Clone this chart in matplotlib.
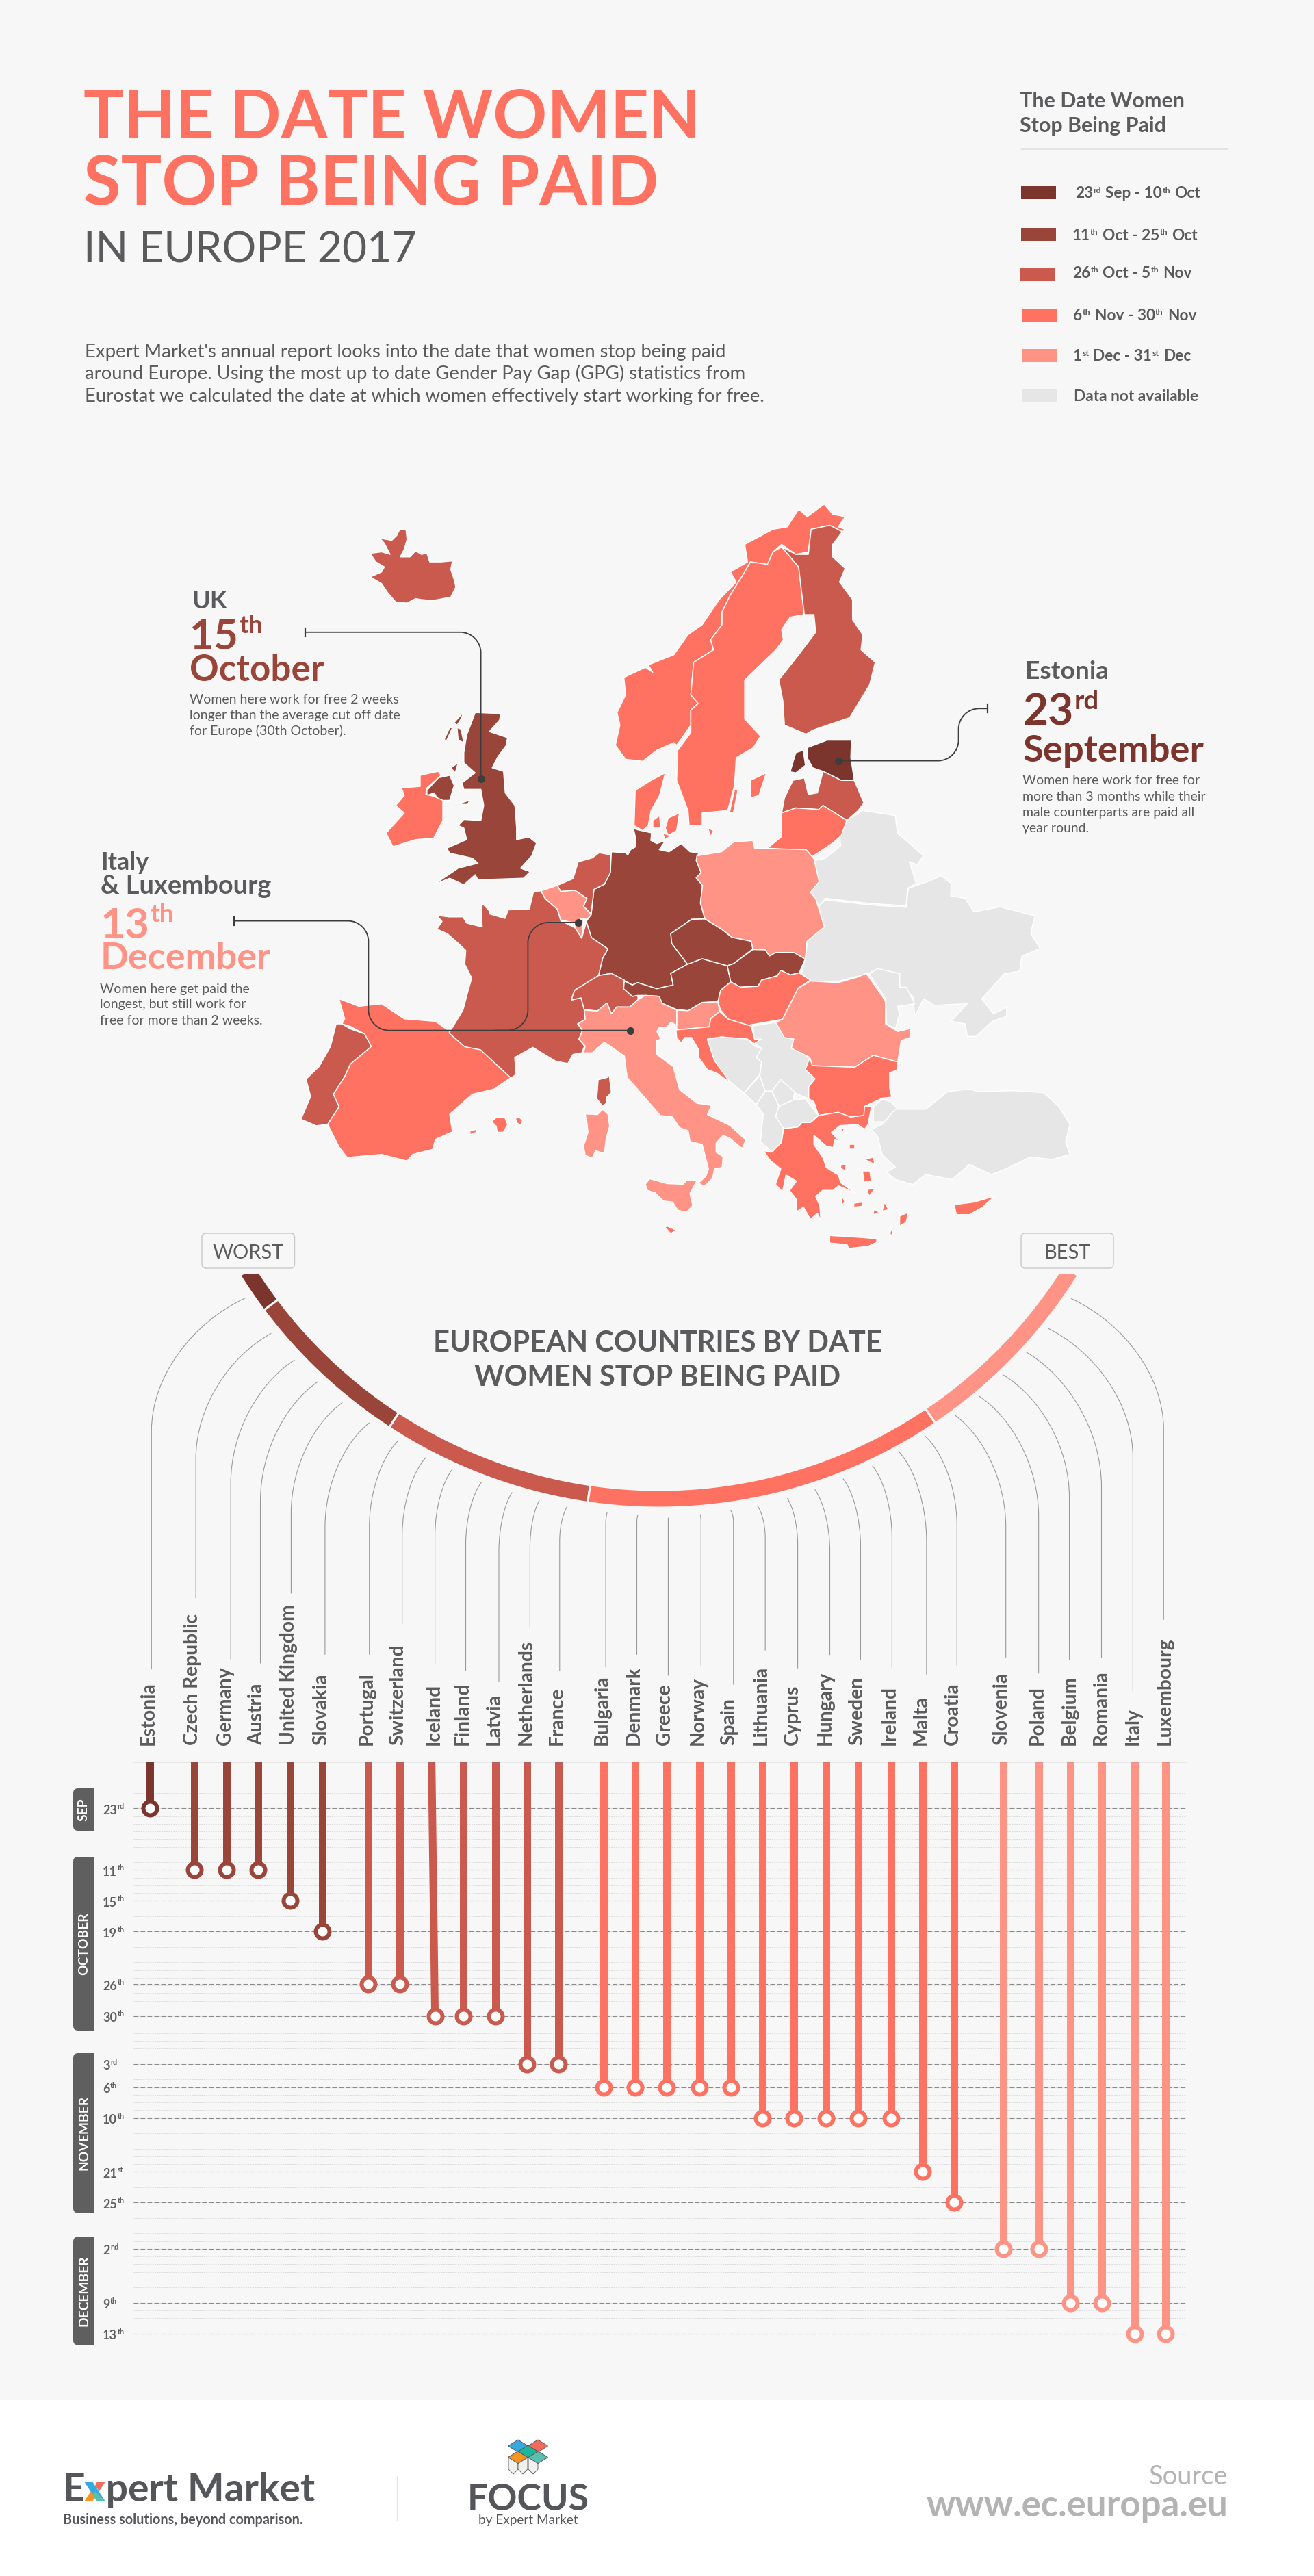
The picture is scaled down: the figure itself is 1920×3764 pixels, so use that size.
import re
import numpy as np
import matplotlib
matplotlib.use("Agg")
import matplotlib.pyplot as plt
from matplotlib.patches import Polygon, Rectangle, FancyBboxPatch, PathPatch
from matplotlib.path import Path

FONT = "Lato"
BG = "#f7f7f7"
INK = "#5b5b5e"
band_colors = ["#7c352d", "#9a4539", "#c95a4d", "#ff7160", "#ff9486", "#e6e6e6"]

# countries in chart order, with the date each one stops being paid
countries = ["Estonia", "Czech Republic", "Germany", "Austria", "United Kingdom", "Slovakia",
             "Portugal", "Switzerland", "Iceland", "Finland", "Latvia", "Netherlands", "France",
             "Bulgaria", "Denmark", "Greece", "Norway", "Spain", "Lithuania", "Cyprus", "Hungary",
             "Sweden", "Ireland", "Malta", "Croatia",
             "Slovenia", "Poland", "Belgium", "Romania", "Italy", "Luxembourg"]
# day of year 2017
stop_day = [266, 284, 284, 284, 288, 292,
            299, 299, 303, 303, 303, 307, 307,
            310, 310, 310, 310, 310, 314, 314, 314, 314, 314, 325, 329,
            336, 336, 343, 343, 347, 347]
country_band = [0, 1, 1, 1, 1, 1,
                2, 2, 2, 2, 2, 2, 2,
                3, 3, 3, 3, 3, 3, 3, 3, 3, 3, 3, 3,
                4, 4, 4, 4, 4, 4]

tick_days = [266, 284, 288, 292, 299, 303, 307, 310, 314, 325, 329, 336, 343, 347]
tick_labels = ["23^{rd}", "11^{th}", "15^{th}", "19^{th}", "26^{th}", "30^{th}", "3^{rd}", "6^{th}",
               "10^{th}", "21^{st}", "25^{th}", "2^{nd}", "9^{th}", "13^{th}"]

legend_labels = ["23^{rd} Sep - 10^{th} Oct", "11^{th} Oct - 25^{th} Oct", "26^{th} Oct - 5^{th} Nov",
                 "6^{th} Nov - 30^{th} Nov", "1^{st} Dec - 31^{st} Dec", "Data not available"]

# the date axis is not even, rows of the dotted grid per date
row_stops = [-6.1, 0, 8, 12, 16, 22.85, 26.95, 33.2, 36.2, 40.2, 47.2, 51.2, 57.2, 64.2, 68.2, 70.9]
day_stops = [255] + tick_days + [352]
slot_x = [218.6, 283.5, 330.7, 377, 424.4, 471, 537.7, 583.6, 635.6, 677.3, 723.8, 770.4, 815.7,
          881.8, 927.7, 973.5, 1021.8, 1067.8, 1113.7, 1160.2, 1207.4, 1254, 1301.7, 1347.6, 1394.2,
          1465.8, 1517.9, 1564.4, 1610.3, 1657.5, 1703.4]

# map outlines, west part
west = {
    "Iceland": (2, [(580,148),(600,145),(615,150),(605,128),(597,118),(618,122),(627,112),(632,100),(643,100),(645,120),(640,140),(633,155),(650,155),(660,143),(670,150),(680,148),(685,165),(705,165),(725,163),(722,180),(728,200),(731,215),(722,235),(690,242),(670,240),(660,238),(645,247),(625,245),(610,225),(600,208),(580,195),(600,185),(605,175),(590,165)]),
    "UK": (1, [(765,465),(810,467),(808,480),(790,503),(822,515),(820,530),(805,553),(795,575),(815,582),(818,625),(835,650),(838,695),(838,718),(860,713),(873,725),(865,750),(845,775),(862,782),(850,795),(770,798),(765,788),(745,808),(720,795),(692,808),(735,775),(770,765),(760,755),(720,745),(715,735),(750,718),(745,695),(735,690),(745,678),(775,680),(780,650),(775,618),(745,618),(742,605),(765,585),(745,565),(745,545),(750,510)]),
    "Hebrides": (1, [(710,520),(720,495),(725,495),(715,520)]),
    "Skye": (1, [(733,495),(740,498),(745,525),(735,520)]),
    "Lewis": (1, [(728,485),(745,463),(740,478),(733,490)]),
    "Anglesey": (1, [(740,645),(755,640),(752,648),(742,648)]),
    "Islay": (1, [(722,575),(735,565),(730,585)]),
    "N Ireland": (1, [(680,620),(700,595),(720,590),(728,610),(720,640),(700,640),(693,625),(680,630)]),
    "Ireland": (3, [(635,615),(668,612),(668,590),(700,582),(705,590),(680,615),(678,628),(693,632),(708,640),(708,680),(692,715),(660,718),(620,732),(608,705),(640,665),(625,650),(640,630)]),
    "Norway": (3, [(1012,530),(1020,490),(1015,465),(1030,430),(1027,395),(1065,375),(1078,385),(1070,370),(1115,350),(1140,310),(1165,290),(1195,240),(1225,205),(1215,185),(1245,165),(1240,130),(1290,100),(1315,95),(1335,60),(1350,75),(1380,50),(1395,70),(1417,75),(1405,95),(1417,100),(1412,105),(1390,92),(1357,100),(1352,145),(1330,150),(1305,130),(1290,145),(1280,170),(1250,165),(1240,185),(1215,230),(1200,265),(1200,290),(1180,320),(1185,340),(1150,365),(1145,430),(1158,447),(1145,460),(1145,490),(1130,515),(1120,530),(1115,525),(1085,540),(1060,562),(1030,558)]),
    "Sweden": (3, [(1305,135),(1335,175),(1345,270),(1320,275),(1305,300),(1308,320),(1295,340),(1240,400),(1240,478),(1268,512),(1255,535),(1225,555),(1222,610),(1210,660),(1165,665),(1165,690),(1142,690),(1140,660),(1120,600),(1122,540),(1145,505),(1145,460),(1158,447),(1145,430),(1150,365),(1185,340),(1180,320),(1200,290),(1200,265),(1215,230),(1240,185),(1250,165),(1280,170),(1290,145)]),
    "Gotland": (3, [(1250,600),(1278,585),(1265,630),(1250,635)]),
    "Oland": (3, [(1222,618),(1228,620),(1220,665),(1213,665)]),
    "Finland": (2, [(1305,135),(1330,150),(1352,150),(1357,100),(1390,92),(1412,105),(1395,130),(1395,155),(1417,178),(1407,205),(1430,240),(1430,280),(1448,310),(1445,340),(1470,365),(1460,410),(1425,475),(1360,500),(1348,508),(1310,490),(1307,440),(1300,400),(1335,350),(1365,305),(1362,270),(1345,270),(1335,175)]),
    "Estonia": (0, [(1350,535),(1385,520),(1428,520),(1427,555),(1433,600),(1410,600),(1378,582),(1360,575),(1350,555)]),
    "Saaremaa": (0, [(1330,545),(1343,540),(1347,570),(1330,585),(1320,583)]),
    "Latvia": (2, [(1305,665),(1310,635),(1325,600),(1345,595),(1352,628),(1368,625),(1378,582),(1410,600),(1433,600),(1450,645),(1440,660),(1420,680),(1378,650),(1370,658),(1330,655)]),
    "Lithuania": (3, [(1305,665),(1330,655),(1370,658),(1378,650),(1420,680),(1410,710),(1395,725),(1355,755),(1340,740),(1280,735),(1305,712)]),
    "Jutland": (3, [(1045,690),(1047,620),(1075,600),(1100,585),(1090,630),(1075,660),(1070,690),(1060,700)]),
    "Zealand": (3, [(1105,675),(1125,665),(1120,700),(1105,710),(1100,695)]),
    "Funen": (3, [(1078,680),(1090,670),(1092,695),(1078,695)]),
    "Lolland": (3, [(1095,705),(1110,710),(1100,718)]),
    "Bornholm": (3, [(1175,695),(1185,700),(1180,712)]),
    "Spain": (3, [(525,1035),(560,1050),(600,1045),(640,1075),(695,1080),(720,1100),(750,1130),(775,1135),(828,1192),(798,1215),(760,1225),(720,1265),(725,1300),(695,1315),(690,1335),(655,1345),(645,1358),(600,1345),(550,1350),(540,1352),(525,1330),(505,1285),(525,1250),(515,1225),(535,1190),(545,1165),(580,1130),(570,1105),(545,1090),(530,1085),(535,1075)]),
    "Portugal": (2, [(520,1085),(530,1085),(545,1095),(570,1105),(582,1130),(545,1165),(535,1190),(515,1225),(525,1250),(505,1285),(485,1288),(458,1275),(475,1230),(467,1195),(490,1170),(510,1130)]),
}

# and the east part
east = {
    "Belarus": (5, [(530,680),(565,660),(640,670),(645,705),(705,750),(690,768),(672,762),(688,805),(668,815),(665,850),(580,845),(480,835),(465,850),(443,825),(465,800),(455,760),(480,755),(515,730),(512,705)]),
    "Ukraine": (5, [(465,850),(480,838),(580,848),(665,853),(670,815),(720,800),(745,790),(768,805),(767,830),(800,835),(820,862),(880,852),(960,870),(950,905),(972,935),(930,950),(925,980),(890,985),(838,1035),(865,1065),(895,1052),(895,1070),(862,1080),(825,1110),(805,1110),(800,1085),(768,1080),(805,1045),(730,1048),(705,1035),(685,1070),(680,1030),(650,1010),(650,985),(600,975),(578,985),(510,1000),(445,1000),(425,985),(435,950),(440,910),(475,890)]),
    "Moldova": (5, [(580,985),(600,975),(650,985),(650,1012),(665,1012),(685,1045),(645,1050),(650,1065),(640,1095),(620,1085),(618,1035)]),
    "Thrace": (5, [(590,1250),(610,1235),(630,1240),(645,1255),(670,1268),(620,1280),(590,1280)]),
    "Turkey": (5, [(585,1295),(610,1285),(640,1255),(710,1255),(760,1220),(810,1215),(830,1220),(910,1218),(980,1222),(1015,1250),(1040,1285),(1030,1320),(1040,1345),(1000,1355),(950,1350),(890,1375),(860,1385),(810,1365),(770,1395),(710,1385),(680,1405),(640,1395),(620,1380),(640,1370),(610,1345),(600,1310)]),
    "Cyprus": (3, [(775,1445),(820,1440),(868,1428),(840,1450),(810,1465),(780,1465)]),
    "isle1": (3, [(515,1365),(528,1365),(525,1378),(515,1372)]),
    "isle2": (3, [(565,1378),(582,1378),(585,1398),(568,1400)]),
    "isle3": (3, [(570,1355),(590,1350),(593,1365)]),
    "isle4": (3, [(535,1325),(548,1325),(548,1335),(535,1335)]),
    "isle5": (3, [(575,1415),(595,1412),(580,1428)]),
    "isle6": (3, [(515,1422),(525,1440),(518,1445)]),
    "isle7": (3, [(545,1442),(565,1440),(565,1448),(545,1450)]),
    "isle8": (3, [(615,1440),(625,1455),(610,1458)]),
    "isle9": (3, [(650,1468),(670,1460),(665,1480),(650,1488)]),
    "isle10": (3, [(630,1490),(635,1505),(628,1505)]),
    "isle11": (3, [(590,1455),(605,1460),(590,1465)]),
    "isle12": (3, [(515,1295),(525,1292),(518,1302)]),
}

# central Europe, traced closer in
central = {
    "Germany": (1, [(575,212),(615,215),(622,222),(630,205),(645,195),(645,170),(638,135),(650,140),(690,150),(688,175),(705,185),(730,175),(712,205),(740,212),(775,185),(800,212),(825,215),(818,240),(832,280),(818,297),(836,322),(830,380),(843,432),(805,433),(745,480),(748,512),(793,580),(745,610),(752,648),(705,660),(650,640),(635,648),(610,632),(575,610),(538,617),(550,560),(565,530),(518,493),(503,440),(517,418),(525,335),(555,318),(572,280)]),
    "Poland": (4, [(820,225),(890,212),(925,180),(980,175),(985,200),(1133,205),(1155,235),(1170,310),(1145,345),(1160,365),(1185,458),(1135,505),(1130,563),(1098,542),(1045,542),(1028,553),(1015,533),(980,530),(975,505),(920,492),(890,465),(843,432),(830,380),(836,322),(818,297),(832,280),(818,240)]),
    "Netherlands": (2, [(420,322),(465,300),(480,245),(520,232),(540,215),(572,222),(572,280),(555,318),(525,335),(517,415),(495,390),(505,365),(470,338),(430,342)]),
    "Belgium": (4, [(373,340),(420,322),(430,342),(470,338),(505,365),(495,390),(517,418),(505,433),(490,430),(470,445),(430,435),(420,400),(385,365)]),
    "Luxembourg": (4, [(470,445),(495,430),(490,495),(470,460)]),
    "France": (2, [(352,342),(373,340),(385,365),(420,400),(430,438),(470,460),(490,495),(503,442),(518,493),(565,530),(550,560),(538,617),(470,665),(460,697),(488,690),(498,730),(500,760),(478,775),(492,797),(482,825),(498,848),(490,870),(465,875),(450,905),(415,897),(350,852),(298,885),(302,940),(288,953),(200,860),(155,850),(110,805),(118,790),(150,730),(165,665),(175,625),(155,580),(158,535),(140,515),(105,480),(75,465),(90,440),(75,420),(110,425),(150,425),(160,445),(205,458),(203,420),(205,380),(225,405),(225,415),(270,430),(280,402),(340,400)]),
    "Switzerland": (2, [(460,697),(470,665),(538,617),(575,610),(612,632),(610,660),(635,685),(650,682),(652,695),(628,720),(590,720),(575,742),(562,707),(535,733),(497,728),(488,690)]),
    "Austria": (1, [(612,635),(635,648),(650,640),(705,660),(752,648),(745,610),(793,580),(835,562),(907,585),(917,638),(888,665),(880,703),(835,705),(795,732),(762,728),(720,708),(712,685),(672,682),(650,682),(635,685),(610,660)]),
    "Czech": (1, [(745,480),(805,433),(843,432),(890,465),(920,492),(975,505),(980,530),(925,578),(907,585),(835,562),(793,580),(748,512)]),
    "Slovakia": (1, [(907,585),(925,578),(980,532),(1015,533),(1028,553),(1045,542),(1098,542),(1130,563),(1113,608),(1088,615),(1060,600),(1050,618),(1005,632),(995,652),(945,655),(917,638)]),
    "Hungary": (3, [(917,638),(945,655),(995,652),(1005,632),(1050,618),(1060,600),(1088,615),(1113,608),(1145,632),(1110,658),(1065,760),(965,780),(910,760),(888,730),(880,703),(888,665)]),
    "Slovenia": (4, [(762,730),(795,732),(835,705),(880,703),(885,735),(860,757),(855,785),(762,795)]),
    "Croatia": (3, [(760,795),(855,785),(860,757),(885,735),(910,760),(975,782),(985,825),(1005,825),(985,840),(965,825),(890,818),(850,825),(870,895),(910,945),(912,965),(875,935),(850,925),(825,885),(825,860),(805,820),(785,820),(775,838),(762,820)]),
    "Romania": (4, [(1065,760),(1110,658),(1145,635),(1225,640),(1280,622),(1305,610),(1360,700),(1360,775),(1395,800),(1432,790),(1430,820),(1405,830),(1395,900),(1325,878),(1272,917),(1150,912),(1143,885),(1090,855),(1097,825),(1070,820),(1045,770)]),
    "Bulgaria": (3, [(1143,885),(1150,912),(1272,917),(1325,878),(1395,900),(1395,925),(1372,935),(1372,985),(1378,1015),(1352,1018),(1300,1045),(1300,1075),(1260,1080),(1225,1065),(1168,1075),(1155,1030),(1140,1020),(1140,980),(1158,955),(1130,925)]),
    "Greece": (3, [(1068,1118),(1110,1112),(1120,1098),(1145,1098),(1168,1075),(1225,1065),(1260,1080),(1298,1075),(1300,1045),(1320,1045),(1310,1105),(1300,1120),(1280,1105),(1230,1108),(1205,1130),(1228,1160),(1215,1155),(1210,1180),(1190,1175),(1155,1140),(1155,1170),(1182,1215),(1190,1245),(1225,1270),(1232,1295),(1275,1330),(1225,1305),(1210,1320),(1180,1320),(1160,1340),(1172,1370),(1175,1420),(1165,1395),(1145,1415),(1125,1375),(1105,1390),(1105,1350),(1085,1320),(1105,1290),(1075,1270),(1065,1325),(1045,1300),(1060,1250),(1030,1222),(1010,1190),(1030,1195),(1050,1165),(1062,1165)]),
    "Crete": (3, [(1200,1468),(1240,1470),(1300,1475),(1335,1478),(1335,1490),(1310,1503),(1255,1510),(1250,1498),(1200,1492)]),
    "Bosnia": (5, [(850,825),(890,818),(965,825),(985,848),(1005,855),(990,885),(1005,900),(1000,940),(955,1002),(912,962),(870,895)]),
    "Serbia": (5, [(980,782),(1045,770),(1070,820),(1097,825),(1090,855),(1143,885),(1130,925),(1158,955),(1140,980),(1138,1020),(1100,1000),(1060,958),(1035,995),(1015,995),(1000,945),(1005,900),(990,885),(1005,855),(985,840),(1005,825),(985,825)]),
    "Montenegro": (5, [(955,1002),(1000,945),(1015,995),(990,1040)]),
    "Kosovo": (5, [(1035,995),(1060,958),(1100,998),(1095,1025),(1055,1045)]),
    "Macedonia": (5, [(1045,1078),(1055,1045),(1095,1025),(1130,1020),(1168,1075),(1145,1098),(1120,1098),(1110,1112),(1068,1118)]),
    "Albania": (5, [(990,1040),(1015,997),(1035,997),(1055,1045),(1045,1078),(1068,1118),(1060,1165),(1035,1195),(1002,1160),(1010,1070)]),
    "Italy": (4, [(480,775),(500,760),(497,730),(535,733),(562,707),(575,742),(590,720),(628,720),(650,697),(672,682),(712,685),(720,708),(762,730),(762,780),(745,770),(735,785),(712,787),(705,800),(717,825),(705,830),(705,875),(752,915),(770,990),(820,1035),(862,1042),(850,1072),(915,1108),(960,1155),(950,1183),(930,1165),(915,1150),(895,1140),(875,1165),(875,1195),(895,1210),(892,1245),(870,1250),(865,1280),(840,1308),(825,1295),(845,1275),(853,1250),(835,1170),(800,1160),(795,1125),(770,1115),(750,1080),(715,1075),(620,950),(612,880),(555,835),(520,870),(495,870),(500,848),(482,825),(492,797)]),
    "Sicily": (4, [(672,1300),(685,1282),(710,1290),(735,1298),(780,1300),(790,1288),(820,1288),(800,1330),(808,1370),(790,1392),(765,1385),(750,1358),(725,1355),(700,1328),(678,1320)]),
    "Sardinia": (4, [(500,1070),(535,1072),(550,1055),(565,1070),(570,1110),(560,1150),(555,1200),(530,1190),(520,1215),(500,1205),(495,1175),(508,1130),(505,1100)]),
    "Corsica": (2, [(537,958),(565,950),(568,935),(575,1000),(562,1015),(560,1035),(550,1045),(533,1020),(535,990)]),
    "Malta": (3, [(728,1440),(735,1437),(760,1450),(745,1462)]),
    "Mallorca": (3, [(232,1095),(245,1082),(270,1082),(278,1105),(265,1130),(248,1130),(245,1110)]),
    "Menorca": (3, [(300,1085),(310,1080),(320,1090),(318,1108),(305,1100)]),
    "Ibiza": (3, [(170,1125),(190,1120),(188,1130),(170,1138)]),
}

# connector lines from the arc to the labels: start x, start y, vertical x, knee y, end y
conn_left = [(349,229,81,610,1292),(424,330,208,690,1088),(491,406,308,760,1263),(558,468,393,810,1275),
             (628,528,481,845,1075),(705,586,578,885,1250),(787,638,705,885,1250),(867,685,799,910,1163),
             (942,720,893,910,1277),(1026,756,981,935,1297),(1114,785,1076,955,1327),(1192,808,1165,945,1173),
             (1272,825,1250,925,1297),(1386,843,1382,875,1286),(1474,850,1471,870,1250),(1561,858,1561,870,1310)]
conn_right = [(124,848,126,870,1283),(211,837,219,870,1336),(287,823,310,915,1238),(373,802,403,935,1289),
              (452,777,495,955,1251),(533,746,583,940,1265),(617,709,673,915,1289),(692,668,772,925,1307),
              (767,623,859,880,1282),(853,564,999,885,1258),(923,510,1093,855,1304),(992,449,1181,800,1265),
              (1058,384,1273,770,1260),(1119,315,1363,685,1355),(1186,230,1451,605,1150)]

arc_edges = [-58, -53.1, -33.1, -8.3, 34, 58]

W, H = 1920, 3764
fig = plt.figure(figsize=(W / 100, H / 100), dpi=100, facecolor="white")
ax = fig.add_axes([0, 0, 1, 1])
ax.set_xlim(0, W)
ax.set_ylim(H, 0)
ax.axis("off")
renderer = fig.canvas.get_renderer()


def put(x, y, s, size, weight="normal", color=INK, ha="left", family=FONT, **kw):
    return ax.text(x, y, s, fontsize=size * 0.72, fontweight=weight, color=color, ha=ha,
                   va="baseline", family=family, **kw)


def fit_size(s, width, weight="normal", family=FONT):
    t = ax.text(0, 0, s, fontsize=72, fontweight=weight, family=family)
    w = t.get_window_extent(renderer).width
    t.remove()
    return 100 * width / w


def rich(x, y, s, size, weight="normal", color=INK, sup=0.6, rise=0.36):
    parts = re.split(r"\^\{(.*?)\}", s)
    for i, part in enumerate(parts):
        if part == "":
            continue
        small = i % 2 == 1
        if part.startswith(" "):
            x += size * 0.22
            part = part.strip()
        if small:
            t = put(x, y - size * rise, part, size * sup, weight, color)
        else:
            t = put(x, y, part, size, weight, color)
        x = t.get_window_extent(renderer).x1 + (1 if small else 0.5)
    return x


def rounded(pts, r):
    verts = [pts[0]]
    codes = [Path.MOVETO]
    for i in range(1, len(pts) - 1):
        p = np.array(pts[i], float)
        a = np.array(pts[i - 1], float)
        b = np.array(pts[i + 1], float)
        p1 = p + (a - p) / np.linalg.norm(a - p) * r
        p2 = p + (b - p) / np.linalg.norm(b - p) * r
        c1 = p1 + (p - p1) * 0.55
        c2 = p2 + (p - p2) * 0.55
        verts += [tuple(p1), tuple(c1), tuple(c2), tuple(p2)]
        codes += [Path.LINETO, Path.CURVE4, Path.CURVE4, Path.CURVE4]
    verts.append(pts[-1])
    codes.append(Path.LINETO)
    return Path(verts, codes)


# background panel, footer stays white
ax.add_patch(Rectangle((0, 0), W, 3507, fc=BG, ec="none", zorder=0))

# header
put(122, 201.7, "THE DATE WOMEN", fit_size("THE DATE WOMEN", 901, "bold"), "bold", band_colors[3])
put(122, 299, "STOP BEING PAID", fit_size("STOP BEING PAID", 840, "bold"), "bold", band_colors[3])
put(122, 383, "IN EUROPE 2017", fit_size("IN EUROPE 2017", 486), "normal", INK)
intro = ["Expert Market's annual report looks into the date that women stop being paid",
         "around Europe. Using the most up to date Gender Pay Gap (GPG) statistics from",
         "Eurostat we calculated the date at which women effectively start working for free."]
intro_size = fit_size(intro[2], 992)
for line, y in zip(intro, [521.7, 554, 586.7]):
    put(124, y, line, intro_size)

# legend
legend_size = fit_size("The Date Women", 241, "bold")
put(1490, 157.3, "The Date Women", legend_size, "bold")
put(1490, 193.3, "Stop Being Paid", legend_size, "bold")
ax.plot([1492, 1792.7], [216.7, 216.7], color="#999999", lw=1)
swatch_x = [1491.7, 1491.7, 1490.7, 1493, 1493, 1493]
swatch_y = [271.7, 333.3, 391.7, 451, 510, 569]
text_x = [1570.7, 1566.7, 1566.7, 1568.3, 1567.7, 1569]
text_y = [289.3, 350.7, 406, 467.7, 527.3, 586]
item_size = fit_size("Data not available", 182, "bold")
for i, label in enumerate(legend_labels):
    ax.add_patch(Rectangle((swatch_x[i], swatch_y[i]), 51, 19, fc=band_colors[i], ec="none"))
    rich(text_x[i], text_y[i], label, item_size, "bold", sup=0.55, rise=0.34)

# map
frames = [(east, lambda v: 900 + v / 1.568, lambda v: 700 + v / 1.363),
          (west, lambda v: 60 + v / 1.206, lambda v: 700 + v / 1.363),
          (central, lambda v: 600 + v / 1.96, lambda v: 1150 + v / 2.24)]
for outlines, fx, fy in frames:
    for name, (band, pts) in outlines.items():
        xy = [(fx(a), fy(b)) for a, b in pts]
        ax.add_patch(Polygon(xy, closed=True, fc=band_colors[band], ec="white", lw=1.1, joinstyle="round", zorder=2))

# callout lines
lead = "#3d3d3d"
leads = [[(446.4, 923.8), (702.6, 923.8), (702.6, 1138)],
         [(341.9, 1345.6), (538.4, 1345.6), (538.4, 1505.6), (920.7, 1505.6)],
         [(720, 1505.6), (771.4, 1505.6), (771.4, 1347.9), (845.2, 1347.9)],
         [(1443.4, 1035.3), (1400.6, 1035.3), (1400.6, 1111.6), (1224.6, 1111.6)]]
for pts in leads:
    ax.add_patch(PathPatch(rounded(pts, 30), fc="none", ec=lead, lw=1.3, zorder=3))
for x, y in [(446.4, 923.8), (341.9, 1345.6), (1443.4, 1035.3)]:
    ax.plot([x, x], [y - 6, y + 6], color=lead, lw=1.6, zorder=3)
ax.plot([702.6, 920.7, 845.2, 1224.6], [1138, 1505.6, 1347.9, 1111.6], "o", color=lead, ms=8, mew=0, zorder=4)

# callout text
put(280, 889, "UK", 36, "bold")
rich(277, 949, "15^{th}", 62, "bold", band_colors[1], sup=0.6, rise=0.38)
put(277, 995, "October", fit_size("October", 197, "bold"), "bold", band_colors[1])
uk_text = ["Women here work for free 2 weeks", "longer than the average cut off date", "for Europe (30th October)."]
call_size = fit_size(uk_text[1], 307)
for line, y in zip(uk_text, [1028, 1050.7, 1074]):
    put(277, y, line, call_size)

put(147, 1271, "Italy", 36, "bold")
put(147, 1306, "& Luxembourg", fit_size("& Luxembourg", 249, "bold"), "bold")
rich(147, 1371, "13^{th}", 62, "bold", band_colors[4], sup=0.6, rise=0.38)
put(147, 1416, "December", fit_size("December", 249, "bold"), "bold", band_colors[4])
for line, y in zip(["Women here get paid the", "longest, but still work for", "free for more than 2 weeks."],
                   [1450.5, 1473, 1497]):
    put(146, y, line, call_size)

put(1497.6, 992, "Estonia", fit_size("Estonia", 122, "bold"), "bold")
rich(1495, 1060, "23^{rd}", 64, "bold", band_colors[0], sup=0.6, rise=0.38)
put(1495, 1113, "September", fit_size("September", 265, "bold"), "bold", band_colors[0])
for line, y in zip(["Women here work for free for", "more than 3 months while their",
                    "male counterparts are paid all", "year round."], [1146, 1169.6, 1193, 1216]):
    put(1494, y, line, fit_size("more than 3 months while their", 268))

# worst and best tags
for x0, x1, label in [(295, 430.5, "WORST"), (1492, 1627, "BEST")]:
    ax.add_patch(FancyBboxPatch((x0 + 5, 1807), x1 - x0 - 10, 41, boxstyle="round,pad=5,rounding_size=6",
                                fc=BG, ec="#c8c8c8", lw=1))
    ax.text((x0 + x1) / 2, 1839, label, fontsize=29 * 0.72, color=INK, ha="center", va="baseline", family=FONT)

# arc
cx, cy, r_in, r_out = 963, 1481, 696, 722
top_clip = Rectangle((0, 1861), W, 400, transform=ax.transData)
for i in range(5):
    t = np.radians(np.linspace(arc_edges[i], arc_edges[i + 1], 80))
    xs = np.r_[cx + r_out * np.sin(t), cx + r_in * np.sin(t[::-1])]
    ys = np.r_[cy + r_out * np.cos(t), cy + r_in * np.cos(t[::-1])]
    p = Polygon(np.c_[xs, ys], closed=True, fc=band_colors[i], ec=BG, lw=2.2, zorder=2)
    ax.add_patch(p)
    p.set_clip_path(top_clip)

for title, y in [("EUROPEAN COUNTRIES BY DATE", 1975), ("WOMEN STOP BEING PAID", 2025.4)]:
    ax.text(961, y, title, fontsize=fit_size("EUROPEAN COUNTRIES BY DATE", 655, "bold") * 0.72, fontweight="bold",
            color=INK, ha="center", va="baseline", family=FONT)

# connectors
for rows, x_off in [(conn_left, 180), (conn_right, 960)]:
    for a, b, c, d, e in rows:
        p0 = (x_off + a / 1.96, 1780 + b / 1.96)
        px = x_off + c / 1.96
        knee = 1780 + d / 1.96
        end = 1780 + e / 1.96
        verts = [p0, (p0[0] + (px - p0[0]) * 0.55, p0[1] + (knee - p0[1]) * 0.18),
                 (px, knee - (knee - p0[1]) * 0.42), (px, knee), (px, end)]
        codes = [Path.MOVETO, Path.CURVE4, Path.CURVE4, Path.CURVE4, Path.LINETO]
        ax.add_patch(PathPatch(Path(verts, codes), fc="none", ec="#9a9a9a", lw=0.8, zorder=2))

# country labels
label_size = fit_size("United Kingdom", 201.5)
for name, x in zip(countries, slot_x):
    ax.text(x - 2, 2550.4, name, rotation=90, fontsize=label_size * 0.72, color=INK, fontweight="bold",
            ha="center", va="bottom", family=FONT)

# lollipop chart on its own axes, the date axis goes through a function scale
top_px, bot_px = 2573.7, 3440
chart = fig.add_axes([0, 1 - bot_px / H, 1, (bot_px - top_px) / H])
chart.patch.set_alpha(0)
chart.set_xlim(0, W)
chart.set_yscale("function", functions=(lambda d: np.interp(d, day_stops, row_stops),
                                        lambda r: np.interp(r, row_stops, day_stops)))
chart.set_ylim(352, 255)
chart.axis("off")

minor_rows = np.r_[np.arange(-2, 28), np.arange(28.2, 69)]
chart.hlines(np.interp(minor_rows, row_stops, day_stops), 195, 1733, color="#dcdcdc", lw=0.7,
             linestyle=(0, (2, 1.5)), zorder=1)
chart.hlines(tick_days, 195, 1733, color="#8a8a8a", lw=0.8, linestyle=(0, (6, 3)), zorder=1)
chart.hlines(255, 193.5, 1735, color="#5f5f60", lw=1.6, zorder=3)

top_x = list(slot_x)
top_x[8] = 630.7  # Iceland's stem leans a little
for i, x in enumerate(slot_x):
    c = band_colors[country_band[i]]
    chart.plot([top_x[i], x], [255, stop_day[i]], color=c, lw=7.9, solid_capstyle="butt", zorder=2)
    chart.scatter([x], [stop_day[i]], s=207, facecolor="white", edgecolor=c, linewidth=4.3, zorder=4)

# date labels
for label, d in zip(tick_labels, tick_days):
    y_px = H - chart.transData.transform((0, d))[1]
    rich(150, y_px + 8.5, label, 18, "bold", "#5f5f60", sup=0.6, rise=0.42)

# month pills
pills = [("SEP", 2613, 2675), ("OCTOBER", 2713, 2967), ("NOVEMBER", 3000, 3233.6), ("DECEMBER", 3268.4, 3426.5)]
for name, y0, y1 in pills:
    p = FancyBboxPatch((113, y0 + 6), 40, y1 - y0 - 12, boxstyle="round,pad=6,rounding_size=7",
                       fc="#5f5f60", ec="none", zorder=2)
    ax.add_patch(p)
    p.set_clip_path(Rectangle((100, y0), 37, y1 - y0, transform=ax.transData))
    ax.text(122.5, (y0 + y1) / 2, name, rotation=90, fontsize=fit_size("NOVEMBER", 110, "bold") * 0.72,
            fontweight="bold", color="white", ha="center", va="center", family=FONT, zorder=3)

# footer
put(92, 3655, "Expert Market", fit_size("Expert Market", 368, "bold"), "bold", "#55565a")
ax.add_patch(Rectangle((121, 3622), 35, 36, fc="white", ec="none", zorder=5))
ax.add_patch(Polygon([(123, 3626), (135, 3626), (154, 3655), (142, 3655)], fc="#36a9e1", ec="none", zorder=6))
ax.add_patch(Polygon([(142, 3626), (154, 3626), (145, 3640), (139, 3632)], fc="#f26c5e", ec="none", zorder=6))
ax.add_patch(Polygon([(133, 3640), (139, 3649), (135, 3655), (123, 3655)], fc="#f7941d", ec="none", zorder=6))
ax.add_patch(Polygon([(139, 3640), (154, 3655), (142, 3655), (135, 3646)], fc="#5bbfae", ec="none", zorder=6))
put(92, 3687.7, "Business solutions, beyond comparison.", fit_size("Business solutions, beyond comparison.", 350, "bold"),
    "bold", "#55565a")
ax.plot([580, 580], [3618, 3682], color="#e6e6e6", lw=1)

for x0 in [743, 757, 772]:
    ax.add_patch(Polygon([(x0, 3590), (x0 + 14, 3590), (x0 + 14, 3608), (x0 + 7, 3615), (x0, 3608)],
                         fc="#f0f0ee", ec="#6a6a6a", lw=0.7, zorder=2))
for dx, dy, c in [(757, 3574, "#36a9e1"), (786, 3574, "#f26c5e"), (757, 3590.6, "#f7941d"),
                  (786, 3590.6, "#5bbfae"), (771.5, 3582, "#1fb59a")]:
    ax.add_patch(Polygon([(dx - 14.5, dy), (dx, dy - 9), (dx + 14.5, dy), (dx, dy + 9)], fc=c, ec="#55565a", lw=0.7, zorder=3))
ax.text(772, 3668, "FOCUS", fontsize=fit_size("FOCUS", 178, "bold") * 0.72, fontweight="bold", color="#55565a",
        ha="center", va="baseline", family=FONT)
ax.text(772, 3688, "by Expert Market", fontsize=fit_size("by Expert Market", 145) * 0.72, color="#55565a",
        ha="center", va="baseline", family=FONT)
put(1794, 3630, "Source", 38, "normal", "#b3b3b3", ha="right")
put(1794, 3677, "www.ec.europa.eu", fit_size("www.ec.europa.eu", 441, "bold"), "bold", "#b3b3b3", ha="right")

fig.savefig("out.png", dpi=100, facecolor="white")
